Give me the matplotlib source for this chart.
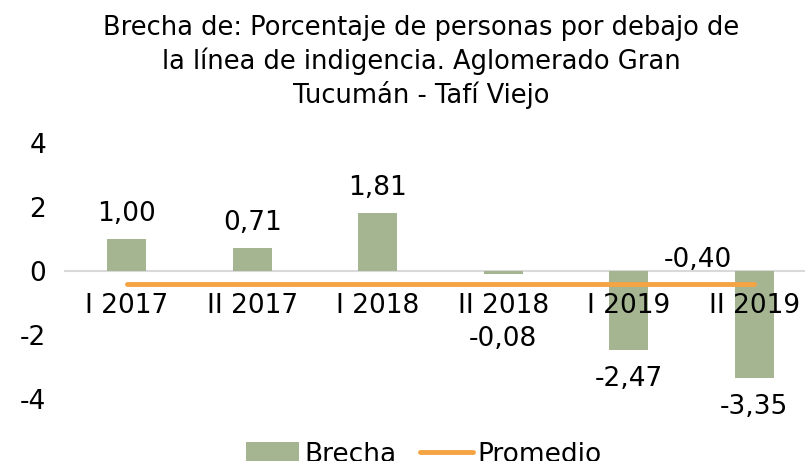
import matplotlib
matplotlib.use("Agg")
import matplotlib.pyplot as plt

periodos = ["I 2017", "II 2017", "I 2018", "II 2018", "I 2019", "II 2019"]
brecha = [1.00, 0.71, 1.81, -0.08, -2.47, -3.35]
promedio = -0.40
yticks = [4, 2, 0, -2, -4]

titulo = ("Brecha de: Porcentaje de personas por debajo de\n"
          "la línea de indigencia. Aglomerado Gran\n"
          "Tucumán - Tafí Viejo")

verde = "#A5B592"
naranja = "#F4A442"

W, H = 805, 461
fig = plt.figure(figsize=(W / 100, H / 100), dpi=100)
# axes: x from 64 px to 817 px (runs past the right edge), y from 143 to 399 px
ax = fig.add_axes([64 / W, 1 - 399 / H, (817 - 64) / W, 256 / H])

x = list(range(len(periodos)))
barras = ax.bar(x, brecha, width=0.31, color=verde, label="Brecha", zorder=1)
linea, = ax.plot([x[0], x[-1]], [promedio, promedio], color=naranja, lw=3.5,
                 solid_capstyle="round", label="Promedio", zorder=3)
ax.axhline(0, color="#D9D9D9", lw=1.5, zorder=0.5)

ax.set_xlim(-0.5, len(periodos) - 0.5)
ax.set_ylim(-4, 4)
ax.set_yticks(yticks)
ax.set_yticklabels([str(v) for v in yticks])
ax.set_xticks(x)
ax.set_xticklabels(periodos)
for s in ax.spines.values():
    s.set_visible(False)
ax.spines["bottom"].set_position(("data", 0))
ax.tick_params(axis="both", length=0, labelsize=19, colors="black")
ax.tick_params(axis="x", pad=16)
ax.tick_params(axis="y", pad=13)

fmt = lambda v: f"{v:.2f}".replace(".", ",")
for xi, v in zip(x, brecha):
    if v >= 0:
        off = 18
    elif v > -0.5:
        off = -47
    else:
        off = -21
    ax.annotate(fmt(v), (xi, v), xytext=(0, off), textcoords="offset points",
                ha="center", va="center", fontsize=19)
ax.annotate(fmt(promedio), (x[-1] - 0.45, promedio), xytext=(0, 17),
            textcoords="offset points", ha="center", va="center", fontsize=19)

fig.text(421 / W, 1 - 62 / H, titulo, ha="center", va="center",
         fontsize=18.5, linespacing=1.3)

fig.legend([barras, linea], ["Brecha", "Promedio"], loc="center",
           bbox_to_anchor=(424 / W, 1 - 455 / H), ncol=2,
           frameon=False, fontsize=19, handlelength=2.0, handleheight=0.9,
           columnspacing=0.9, handletextpad=0.2)

fig.savefig("out.png", dpi=100)
